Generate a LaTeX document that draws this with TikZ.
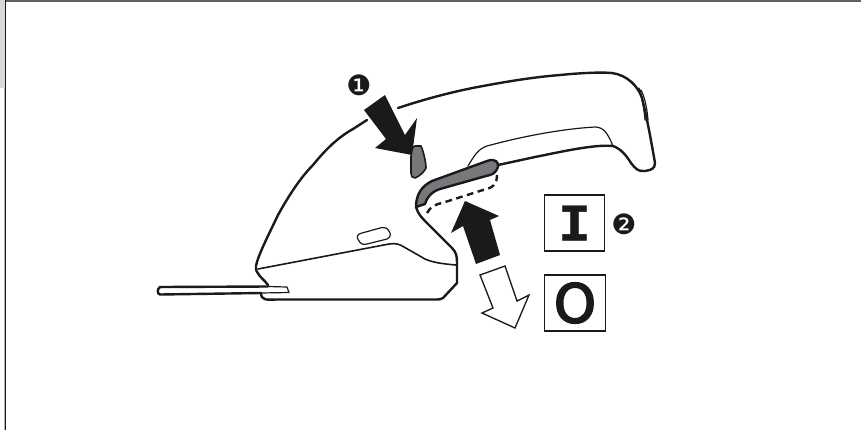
\documentclass[tikz,border=0pt]{standalone}
\usepackage{fontspec}
\newfontfamily\numfont{DejaVu Sans}
\newfontfamily\slabfont[FakeBold=1]{DejaVu Sans Mono Bold}
\newfontfamily\ringfont[FakeBold=3.5]{DejaVu Sans}
\definecolor{ink}{HTML}{1A1A1A}
\definecolor{trig}{HTML}{77787B}
\tikzset{
  x=0.75pt,y=-0.75pt,
  outline/.style={draw=ink,line width=1.8pt,line join=round,line cap=round},
  thin outline/.style={draw=ink,line width=0.9pt,line join=round,line cap=round},
  part/.style={draw=ink,fill=trig,line width=1.8pt,line join=round},
  big arrow/.style={fill=ink,draw=none},
  hollow arrow/.style={fill=white,draw=ink,line width=1pt,line join=miter},
  markbox/.style={draw=ink,line width=0.8pt,minimum width=45.5pt,minimum height=42pt,inner sep=0pt,fill=white},
}
\begin{document}
\begin{tikzpicture}
\useasboundingbox (0,0) rectangle (861,430);
\fill[white] (0,0) rectangle (861,430);
\fill[black!15] (0,0) rectangle (5,88);
\fill[black!30] (4,88) rectangle (5,430);
\draw[ink!70,line width=1.4pt] (5,1) -- (861,1);
\draw[ink,line width=1.1pt] (5.7,0) -- (5.7,430);
% dome and top of the handle
\draw[outline] (268,285) .. controls (262,277) and (255,274) .. (256,266)
  .. controls (258,255) and (270,232) .. (278,215)
  .. controls (288,197) and (300,178) .. (313,165)
  .. controls (322,154) and (335,139) .. (353,129) -- (367,120);
\draw[outline] (398,108) .. controls (425,99) and (455,91) .. (483,86)
  .. controls (510,81) and (535,77) .. (560,75)
  .. controls (580,73) and (600,72) .. (612,73)
  .. controls (627,75) and (638,86) .. (642,98)
  .. controls (647,118) and (651,140) .. (655,163)
  .. controls (655,169) and (651,170) .. (645,171)
  .. controls (638,172) and (635,168) .. (631,163)
  .. controls (626,155) and (621,149) .. (613,146)
  .. controls (595,144) and (560,152) .. (535,157) -- (498,165);
% window on the back of the handle
\draw[thin outline] (639,88) .. controls (642,98) and (644,108) .. (645,120) -- (648,120)
  .. controls (647,108) and (645,98) .. (641,90);
% upper line of the handle
\draw[thin outline] (468,166) .. controls (474,156) and (478,149) .. (487,146)
  .. controls (520,137) and (560,129) .. (595,127)
  .. controls (604,127) and (608,134) .. (613,146);
% trigger
\draw[part] (416,207) .. controls (416,194) and (422,186) .. (432,181)
  -- (487,161) .. controls (495,158) and (499,162) .. (498,167)
  .. controls (496,173) and (492,175) .. (486,176)
  -- (440,189) .. controls (430,192) and (426,200) .. (425,204) -- cycle;
% button
\draw[part,line width=1.2pt] (415,146) -- (421,146) .. controls (423,150) and (426,162) .. (426,168)
  .. controls (424,172) and (420,176) .. (415,178)
  .. controls (412,178) and (411,176) .. (411,173) -- (411,157) .. controls (411,151) and (412,147) .. (415,146) -- cycle;
% hidden position of the trigger
\draw[ink,line width=1.8pt,dash pattern=on 5pt off 3.4pt] (427,213)
  .. controls (430,207) and (436,204) .. (442,203)
  -- (483,190) .. controls (493,188) and (497,184) .. (497,175);
% lower front of the body
\draw[outline] (416,207) .. controls (418,214) and (422,218) .. (426,222)
  -- (452,248) .. controls (456,252) and (457,256) .. (457,262)
  -- (457,283) -- (443,298) .. controls (441,299) and (440,299.5) .. (436,299.5)
  -- (276,299.5) .. controls (266,300) and (261,300) .. (261,293);
% sloping seam
\draw[thin outline,line width=1.2pt] (258,269) -- (389,244) .. controls (396,243) and (399,244) .. (404,247)
  -- (425,259) .. controls (434,263) and (445,264) .. (456,265);
% slot
\draw[thin outline] (362,233) -- (382,227.5) .. controls (385,227) and (387,228) .. (389,231)
  .. controls (391,234) and (391,237) .. (387,239) -- (367,244) .. controls (363,245) and (361,244) .. (359,241)
  .. controls (356,237) and (357,234) .. (362,233) -- cycle;
% tray
\draw[outline] (261,293) -- (160,294.5) .. controls (157,294) and (157,289) .. (160,287) -- (268,286.5);
\draw[thin outline] (268,286.5) -- (287,287) -- (289,292.5) -- (261,293);
% arrows
\path[big arrow] (364,110) -- (385,95) -- (405,135) -- (417,118) -- (412,155) -- (375,148) -- (386,139) -- cycle;
\path[big arrow] (465,201) -- (499,216) -- (490,220) -- (500,255) -- (476,264) -- (463,226) -- (451,233) -- cycle;
\draw[hollow arrow] (480,275) -- (505,266) -- (517,301) -- (529,295) -- (515,328) -- (482,313) -- (493,308) -- cycle;
% marks
\node[markbox] (on) at (574.5,223) {};
\node[markbox] (off) at (575,303) {};
\node[inner sep=0pt,text=ink] (onmark) at (on.center) {\scalebox{1.14}[1]{\slabfont\fontsize{36pt}{36pt}\selectfont I}};
\node[inner sep=0pt,text=ink] (offmark) at (off.center) {\ringfont\fontsize{40pt}{40pt}\selectfont O};
\node[inner sep=0pt,text=ink] (one) at (359,85) {\numfont\fontsize{21pt}{21pt}\selectfont ❶};
\node[inner sep=0pt,text=ink] (two) at (624,224) {\numfont\fontsize{21pt}{21pt}\selectfont ❷};
\end{tikzpicture}
\end{document}
